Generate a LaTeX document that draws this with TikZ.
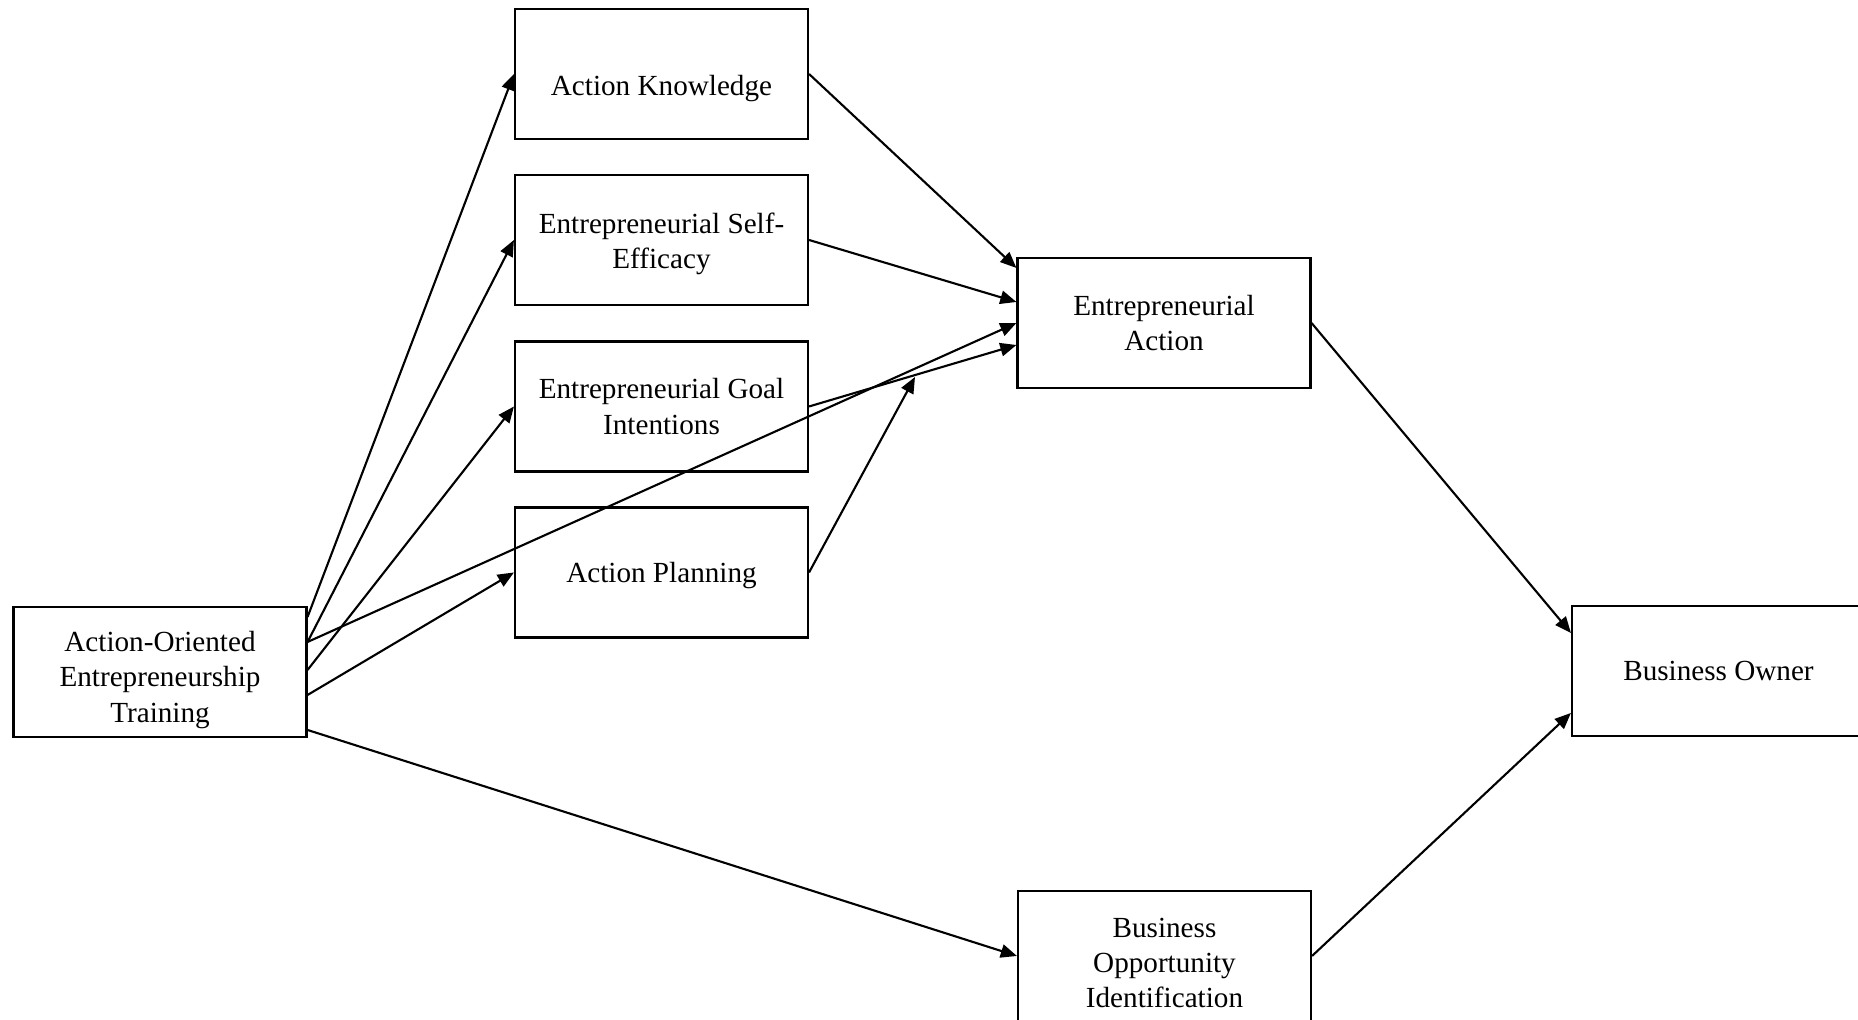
\documentclass[tikz,border=0pt]{standalone}
\usepackage{fontspec}
\setmainfont{Liberation Serif}
\usetikzlibrary{arrows.meta, positioning, calc}
\definecolor{ink}{HTML}{000000}
\tikzset{
  >={Triangle[length=4.6pt, width=3.8pt]},
  %
  box/.style={
    draw=ink, line width=0.6pt, fill=white, align=center, text=ink,
    minimum width=2.93cm, minimum height=1.30cm, inner sep=2pt,
    font=\fontsize{8.3}{10}\selectfont,
  },
  % pushes the text of a box a little down
  sink/.style 2 args={text height=#1, text depth=#2},
  %
  flow/.style={draw=ink, line width=0.6pt, ->},
}

\begin{document}
\begin{tikzpicture}[x=1cm, y=1cm]

  \useasboundingbox (0,0) rectangle (18.58,10.20);

  % ---- boxes ------------------------------------------------------------
  \node[box, sink={30.3pt}{1.8pt}] (aoet) at (1.60,3.48)
    {Action-Oriented\\Entrepreneurship\\Training};

  \node[box, sink={14.3pt}{1.8pt}]  (ak)   at (6.615,9.46)  {Action Knowledge};
  \node[box, sink={18.3pt}{1.8pt}]  (ese)  at (6.615,7.80)  {Entrepreneurial Self-\\Efficacy};
  \node[box]                        (egi)  at (6.615,6.135) {Entrepreneurial Goal\\Intentions};
  \node[box, sink={7.5pt}{1.8pt}]   (ap)   at (6.615,4.475) {Action Planning};

  \node[box] (ea)   at (11.64,6.97)  {Entrepreneurial\\Action};
  \node[box, sink={29.5pt}{0pt}]    (boi)  at (11.645,0.64)
    {Business\\Opportunity\\Identification};

  \node[box] (bo)   at (17.185,3.49) {Business Owner};

  % loose end of the planning arrow
  \coordinate (apend) at (9.15,6.43);

  % ---- training to mediators ------------------------------------------
  \draw[flow] ([yshift=5.5mm]aoet.east)  -- (ak.west);
  \draw[flow] ([yshift=3.0mm]aoet.east)  -- (ese.west);
  \draw[flow] ([yshift=0.2mm]aoet.east)  -- (egi.west);
  \draw[flow] ([yshift=-2.3mm]aoet.east) -- (ap.west);
  \draw[flow] ([yshift=3.0mm]aoet.east)  -- (ea.west);
  \draw[flow] ([yshift=-5.8mm]aoet.east) -- (boi.west);

  % ---- mediators to action ----------------------------------------------
  \draw[flow] (ak.east)  -- ([yshift=5.5mm]ea.west);
  \draw[flow] (ese.east) -- ([yshift=2.1mm]ea.west);
  \draw[flow] (egi.east) -- ([yshift=-2.2mm]ea.west);
  \draw[flow] (ap.east)  -- (apend);

  % ---- outcome ------------------------------------------------------------
  \draw[flow] (ea.east)  -- ([yshift=3.8mm]bo.west);
  \draw[flow] (boi.east) -- ([yshift=-4.2mm]bo.west);

\end{tikzpicture}
\end{document}
